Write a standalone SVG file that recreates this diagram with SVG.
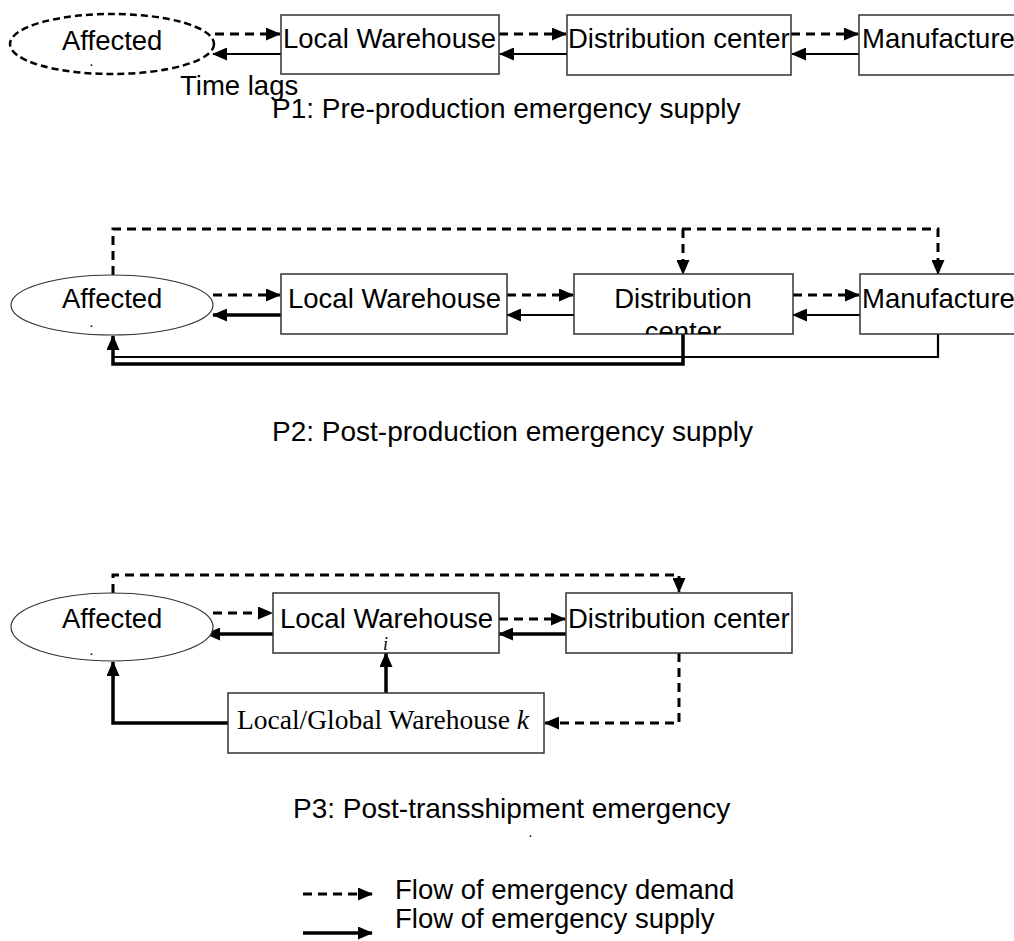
<svg xmlns="http://www.w3.org/2000/svg" width="1014" height="941" viewBox="0 0 1014 941">
<style>
text{font-family:"Liberation Sans",Arial,sans-serif;font-size:27.5px;fill:#000}
.cap{font-size:28px}
.dot{font-size:10px;font-weight:bold}
.serif{font-family:"Liberation Serif","Times New Roman",serif}
.box{fill:#fff;stroke:#333;stroke-width:1.5}
.ell{fill:#fff;stroke:#333;stroke-width:1.2}
.dash{fill:none;stroke:#000;stroke-width:3;stroke-dasharray:9 6}
.sol{fill:none;stroke:#000;stroke-width:2.2}
.thick{fill:none;stroke:#000;stroke-width:3.5}
</style>
<defs>
<marker id="ah" markerUnits="userSpaceOnUse" markerWidth="15" markerHeight="13" refX="14" refY="6.5" orient="auto">
<path d="M0,0 L15,6.5 L0,13 z" fill="#000"/>
</marker>
<clipPath id="dcclip"><rect x="574" y="274" width="219" height="60"/></clipPath>
</defs>
<rect width="1014" height="941" fill="#fff"/>

<g id="connectors">
<!-- P1 -->
<path class="dash" d="M215,34 H280" marker-end="url(#ah)"/>
<path class="sol" d="M281,54 H213" marker-end="url(#ah)"/>
<path class="dash" d="M499,34 H566" marker-end="url(#ah)"/>
<path class="sol" d="M567,54 H500" marker-end="url(#ah)"/>
<path class="dash" d="M791,34 H858" marker-end="url(#ah)"/>
<path class="sol" d="M859,54 H792" marker-end="url(#ah)"/>
<!-- P2 -->
<path class="dash" d="M113,275 V229 H938 V274" marker-end="url(#ah)"/>
<path class="dash" d="M683,229 V274" marker-end="url(#ah)"/>
<path class="dash" d="M213,295 H280" marker-end="url(#ah)"/>
<path class="thick" d="M281,315 H213" marker-end="url(#ah)"/>
<path class="dash" d="M507,295 H573" marker-end="url(#ah)"/>
<path class="sol" d="M574,315 H507" marker-end="url(#ah)"/>
<path class="dash" d="M793,295 H859" marker-end="url(#ah)"/>
<path class="sol" d="M860,315 H793" marker-end="url(#ah)"/>
<path class="sol" d="M938,334 V357 H113"/>
<path class="thick" d="M683,334 V364 H113 V336" marker-end="url(#ah)"/>
<!-- P3 -->
<path class="dash" d="M113,593 V575 H679 V592" marker-end="url(#ah)"/>
<path class="dash" d="M213,613 H272" marker-end="url(#ah)"/>
<path class="thick" d="M273,634 H206" marker-end="url(#ah)"/>
<path class="dash" d="M499,619 H565" marker-end="url(#ah)"/>
<path class="thick" d="M566,634 H499" marker-end="url(#ah)"/>
<path class="dash" d="M679,653 V723 H545" marker-end="url(#ah)"/>
<path class="thick" d="M386,693 V653" marker-end="url(#ah)"/>
<path class="thick" d="M228,723 H113 V662" marker-end="url(#ah)"/>
<!-- legend -->
<path class="dash" d="M303,894 H372" marker-end="url(#ah)"/>
<path class="thick" d="M303,933 H372" marker-end="url(#ah)"/>
</g>

<!-- P1 nodes -->
<g id="p1-affected">
<ellipse cx="112" cy="44" rx="102" ry="30" fill="#fff" stroke="#000" stroke-width="2.5" stroke-dasharray="7 4"/>
<text x="62" y="50">Affected</text>
<text class="dot" x="90" y="66">.</text>
</g>
<g id="p1-local-warehouse">
<rect class="box" x="281" y="15" width="218" height="59"/>
<text x="283" y="48">Local Warehouse</text>
</g>
<g id="p1-distribution-center">
<rect class="box" x="567" y="15" width="224" height="60"/>
<text x="568" y="48">Distribution center</text>
</g>
<g id="p1-manufacture">
<rect class="box" x="859" y="15" width="160" height="60"/>
<text x="862" y="48">Manufacture</text>
</g>
<text x="180" y="95">Time lags</text>
<text class="cap" x="272" y="118">P1: Pre-production emergency supply</text>

<!-- P2 nodes -->
<g id="p2-affected">
<ellipse class="ell" cx="112" cy="305" rx="101" ry="30"/>
<text x="62" y="308">Affected</text>
<text class="dot" x="90" y="327">.</text>
</g>
<g id="p2-local-warehouse">
<rect class="box" x="281" y="274" width="226" height="60"/>
<text x="288" y="308">Local Warehouse</text>
</g>
<g id="p2-distribution-center">
<rect class="box" x="574" y="274" width="219" height="60"/>
<text x="683" y="308" text-anchor="middle">Distribution</text>
<text x="683" y="341" text-anchor="middle" clip-path="url(#dcclip)">center</text>
</g>
<g id="p2-manufacture">
<rect class="box" x="860" y="274" width="160" height="60"/>
<text x="862" y="308">Manufacture</text>
</g>
<text class="cap" x="272" y="441">P2: Post-production emergency supply</text>

<!-- P3 nodes -->
<g id="p3-affected">
<ellipse class="ell" cx="112" cy="627" rx="101" ry="34"/>
<text x="62" y="628">Affected</text>
<text class="dot" x="90" y="655">.</text>
</g>
<g id="p3-local-warehouse">
<rect class="box" x="273" y="593" width="226" height="60"/>
<text x="280" y="628">Local Warehouse</text>
<text class="serif" x="383" y="650" style="font-size:18px;font-style:italic">i</text>
</g>
<g id="p3-distribution-center">
<rect class="box" x="566" y="593" width="226" height="60"/>
<text x="568" y="628">Distribution center</text>
</g>
<g id="p3-local-global-warehouse">
<rect class="box" x="228" y="693" width="316" height="60"/>
<text class="serif" x="237" y="729">Local/Global Warehouse <tspan font-style="italic">k</tspan></text>
</g>
<text class="cap" x="293" y="818">P3: Post-transshipment emergency</text>
<text class="dot" x="529" y="837">.</text>

<!-- legend -->
<g id="legend">
<text x="395" y="899">Flow of emergency demand</text>
<text x="395" y="928">Flow of emergency supply</text>
</g>
</svg>
